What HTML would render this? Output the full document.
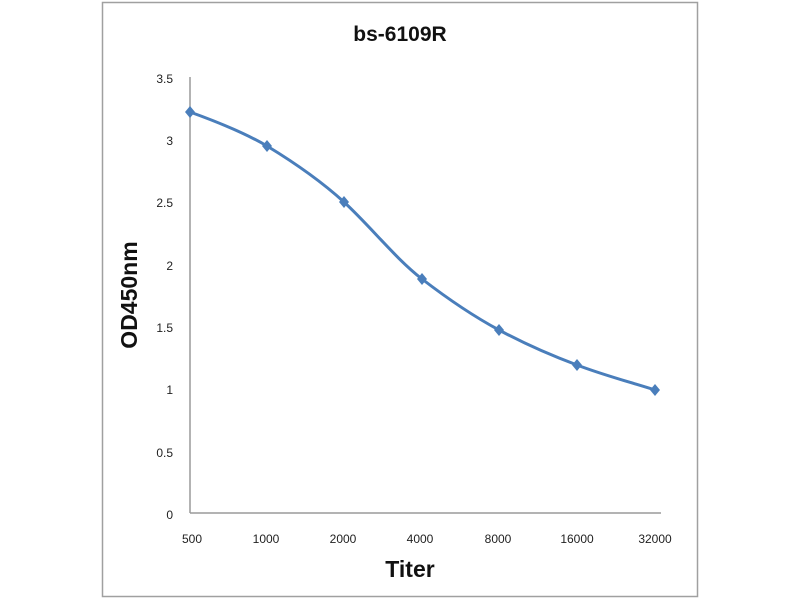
<!DOCTYPE html>
<html><head><style>body{margin:0;background:#fff}</style></head><body>
<svg width="800" height="600" xmlns="http://www.w3.org/2000/svg" font-family="Liberation Sans, sans-serif">
<rect x="0" y="0" width="800" height="600" fill="#fff"/>
<rect x="102.5" y="2.5" width="595" height="594" fill="none" stroke="#a0a0a0" stroke-width="1.5"/>
<text x="400" y="41" text-anchor="middle" font-size="21" font-weight="bold" fill="#111">bs-6109R</text>
<line x1="190" y1="77" x2="190" y2="513" stroke="#9a9a9a" stroke-width="1.5"/>
<line x1="190" y1="513" x2="661" y2="513" stroke="#9a9a9a" stroke-width="1.5"/>
<g font-size="12" fill="#222" text-anchor="end">
<text x="173" y="83">3.5</text><text x="173" y="145">3</text><text x="173" y="207">2.5</text>
<text x="173" y="270">2</text><text x="173" y="332">1.5</text><text x="173" y="394">1</text>
<text x="173" y="457">0.5</text><text x="173" y="519">0</text>
</g>
<g font-size="12" fill="#222" text-anchor="middle">
<text x="192" y="543">500</text><text x="266" y="543">1000</text><text x="343" y="543">2000</text>
<text x="420" y="543">4000</text><text x="498" y="543">8000</text><text x="577" y="543">16000</text><text x="655" y="543">32000</text>
</g>
<text x="410" y="577" text-anchor="middle" font-size="23" font-weight="bold" fill="#111">Titer</text>
<text transform="translate(137,295) rotate(-90)" text-anchor="middle" font-size="23" font-weight="bold" fill="#111">OD450nm</text>
<path d="M190,112 C215,121 245,133 267,146 C295,163 322,182 344,202 C372,228 395,258 422,279 C448,299 473,316 499,330 C525,344 550,355 577,365 C603,375 630,382 655,390" fill="none" stroke="#4a7ebb" stroke-width="3"/>
<g fill="#4a7ebb">
<path d="M190,106 l5,6 -5,6 -5,-6z"/><path d="M267,140 l5,6 -5,6 -5,-6z"/><path d="M344,196 l5,6 -5,6 -5,-6z"/>
<path d="M422,273 l5,6 -5,6 -5,-6z"/><path d="M499,324 l5,6 -5,6 -5,-6z"/><path d="M577,359 l5,6 -5,6 -5,-6z"/>
<path d="M655,384 l5,6 -5,6 -5,-6z"/>
</g>
</svg>
</body></html>
